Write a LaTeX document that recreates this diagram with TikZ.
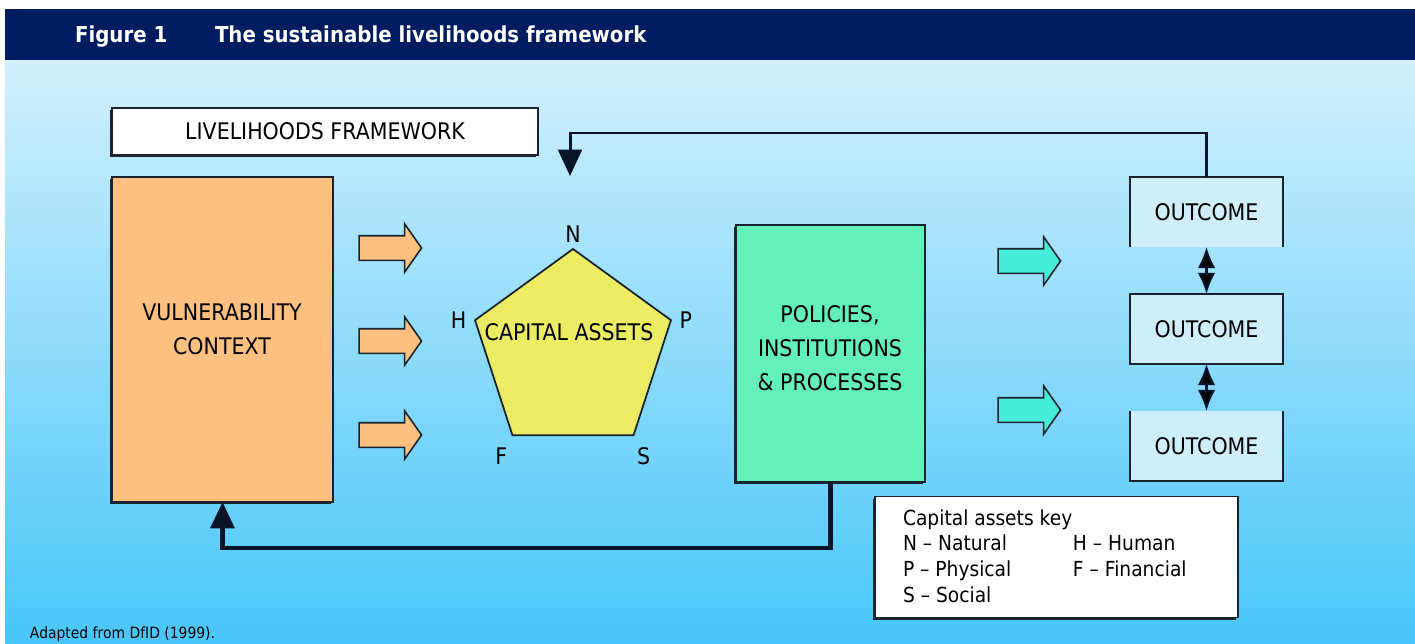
\documentclass[tikz,border=0pt]{standalone}
\usepackage{fontspec}
\setmainfont{DejaVu Sans}[FakeStretch=0.9]
\usetikzlibrary{positioning,shapes.geometric,shapes.arrows,arrows.meta,shadows}

\definecolor{navy}{RGB}{0,28,96}
\definecolor{skytop}{RGB}{210,240,252}
\definecolor{skymid}{RGB}{140,218,250}
\definecolor{skybot}{RGB}{72,198,250}
\definecolor{edgecol}{RGB}{25,35,45}
\definecolor{vulnfill}{RGB}{255,192,128}
\definecolor{capfill}{RGB}{236,236,100}
\definecolor{polfill}{RGB}{100,240,186}
\definecolor{outfill}{RGB}{206,238,252}
\definecolor{turq}{RGB}{70,238,218}
\definecolor{linecol}{RGB}{8,20,40}

\begin{document}
\begin{tikzpicture}[x=0.02cm,y=-0.02cm,node distance=2.34cm,
  every node/.style={inner sep=0pt,outer sep=0pt},
  txt/.style={font=\fontsize{13}{19.5}\selectfont,align=center},
  box/.style={draw=edgecol,line width=1pt,
    general shadow={fill=edgecol,shadow xshift=-0.04cm,shadow yshift=-0.04cm}},
  outbox/.style={txt,fill=outfill,minimum width=3.06cm,minimum height=1.4cm},
  blockarrow/.style={single arrow,draw=edgecol,line width=0.9pt,inner ysep=0.23cm,
    minimum height=1.25cm,minimum width=0.94cm,single arrow head extend=0.24cm,
    single arrow tip angle=110},
  corner/.style={txt},
  feedback/.style={draw=linecol,line width=2pt,-{Triangle[length=15pt,width=13.5pt]}},
  link/.style={draw=linecol,line width=1.2pt,{Latex[length=12pt,width=10pt]}-{Latex[length=12pt,width=10pt]}}]

\useasboundingbox (0,0) rectangle (1415,643);
\fill[white] (0,0) rectangle (1415,643);
\shade[top color=skytop,middle color=skymid,bottom color=skybot] (5,60) rectangle (1415,643);
\fill[navy] (5,9) rectangle (1415,60);

% title bar
\node[anchor=base west,text=white,font=\fontsize{12.5}{15}\selectfont\bfseries] (fignum) at (75,42) {Figure 1};
\node[anchor=base west,text=white,font=\fontsize{12.5}{15}\selectfont\bfseries] (figtitle) at (215,42) {The sustainable livelihoods framework};

% boxes
\node[box,txt,fill=white,minimum width=8.52cm,minimum height=0.94cm] (frame) at (325,131.5) {LIVELIHOODS FRAMEWORK};
\node[box,fill=vulnfill,minimum width=4.42cm,minimum height=6.5cm] (vuln) at (222.5,339.5) {};
\node[txt] (vulntxt) at (222,329) {VULNERABILITY\\CONTEXT};
\node[box,fill=polfill,minimum width=3.78cm,minimum height=5.14cm] (pol) at (830.5,353.5) {};
\node[txt] (poltxt) at (830,348) {POLICIES,\\INSTITUTIONS\\\& PROCESSES};

% capital assets pentagon
\node[draw=edgecol,line width=1pt,fill=capfill,regular polygon,regular polygon sides=5,
  minimum size=4.12cm] (cap) at (573,352) {};
\node[txt] (captxt) at (569,332) {CAPITAL ASSETS};
\node[corner,above=4pt of cap.corner 1] (lN) {N};
\node[corner,left=5pt of cap.corner 2] (lH) {H};
\node[corner,below left=7pt and 3pt of cap.corner 3] (lF) {F};
\node[corner,below right=7pt and 2pt of cap.corner 4] (lS) {S};
\node[corner,right=5pt of cap.corner 5] (lP) {P};

% block arrows
\foreach \y [count=\i] in {248,341,435}
  \node[blockarrow,fill=vulnfill] (va\i) at (386,\y) {};
\node[blockarrow,fill=turq] (pa1) at (1025,261) {};
\node[blockarrow,fill=turq] (pa2) at (1025,410) {};

% outcomes
\node[outbox] (o1) at (1206.5,212) {OUTCOME};
\node[outbox] (o2) [below of=o1] {OUTCOME};
\node[outbox] (o3) [below of=o2] {OUTCOME};
\draw[draw=edgecol,line width=1pt] (o1.south west) |- (o1.north east) -- (o1.south east);
\draw[draw=edgecol,line width=1pt] (o2.south west) rectangle (o2.north east);
\draw[draw=edgecol,line width=1pt] (o3.north west) |- (o3.south east) -- (o3.north east);
\path[link] (o1) edge (o2)
            (o2) edge (o3);

% feedback loops
\coordinate (fbturn) at (570,133);
\coordinate (fbin) at (570,176);
\draw[feedback,line width=1.7pt] (o1.north) |- (fbturn) -- (fbin);
\draw[feedback,line width=2.3pt] (pol.south) -- ++(0,66) -| (vuln.south);

% key
\node[box,fill=white,minimum width=7.26cm,minimum height=2.42cm] (key) at (1056.5,557) {};
\node[anchor=base west,font=\fontsize{11.8}{14.7}\selectfont] (keytxt) at (903,525)
  {\begin{tabular}[t]{@{}p{3.4cm}@{}l@{}}
   \multicolumn{2}{@{}l@{}}{Capital assets key}\\
   N – Natural & H – Human\\
   P – Physical & F – Financial\\
   S – Social &
   \end{tabular}};

\node[anchor=base west,font=\fontsize{8.8}{10}\selectfont] (source) at (30,638) {Adapted from DfID (1999).};
\end{tikzpicture}
\end{document}
